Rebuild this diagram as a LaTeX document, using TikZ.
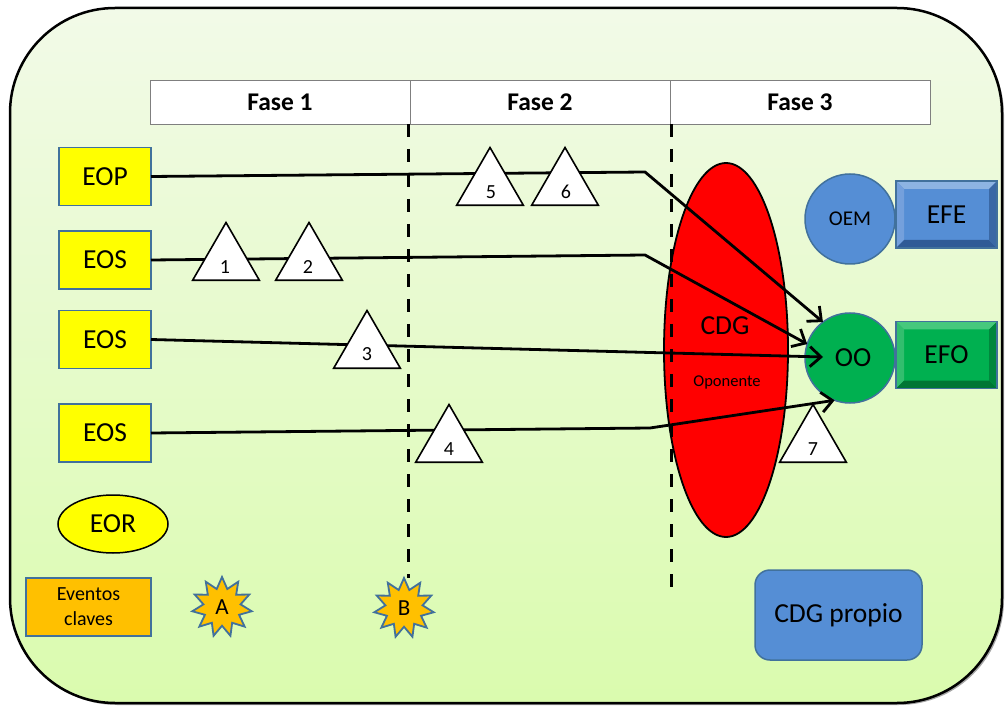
\documentclass[tikz,border=0pt]{standalone}
\usepackage{fontspec}
\setmainfont{Carlito}
\usetikzlibrary{shapes.geometric,shapes.misc,arrows.meta,calc}
\definecolor{bgtop}{RGB}{242,250,232}
\definecolor{bgbot}{RGB}{218,251,174}
\definecolor{yel}{RGB}{255,255,0}
\definecolor{bordblue}{RGB}{65,113,156}
\definecolor{orng}{RGB}{255,192,0}
\definecolor{mblue}{RGB}{85,142,213}
\definecolor{mgreen}{RGB}{0,176,80}
\definecolor{hdrgray}{RGB}{127,127,127}
\definecolor{blueL}{RGB}{141,180,226}
\definecolor{blueM}{RGB}{116,160,220}
\definecolor{blueD}{RGB}{47,90,150}
\definecolor{blueDD}{RGB}{58,104,165}
\definecolor{greenL}{RGB}{70,200,125}
\definecolor{greenM}{RGB}{50,190,110}
\definecolor{greenD}{RGB}{0,118,52}
\definecolor{greenDD}{RGB}{0,135,60}
\newcommand{\bevelbox}[5]{%
 \fill[#2] (#1.north west) -- (#1.north east) -- ($(#1.north east)+(-8,8)$) -- ($(#1.north west)+(8,8)$) -- cycle;
 \fill[#3] (#1.north west) -- ($(#1.north west)+(8,8)$) -- ($(#1.south west)+(8,-8)$) -- (#1.south west) -- cycle;
 \fill[#4] (#1.south west) -- ($(#1.south west)+(8,-8)$) -- ($(#1.south east)+(-8,-8)$) -- (#1.south east) -- cycle;
 \fill[#5] (#1.north east) -- (#1.south east) -- ($(#1.south east)+(-8,-8)$) -- ($(#1.north east)+(-8,8)$) -- cycle;
 \draw[bordblue, line width=1.5pt] (#1.north west) rectangle (#1.south east);}
\begin{document}
\begin{tikzpicture}[x=1pt,y=-1pt,
  hdr/.style={draw=hdrgray, line width=0.8pt, fill=white, minimum width=260, minimum height=44, inner sep=0, outer sep=0, font=\bfseries\fontsize{25.5}{30}\selectfont},
  phaseline/.style={line width=3pt, dash pattern=on 13pt off 12pt},
  lbox/.style={draw=bordblue, line width=1.8pt, fill=yel, minimum width=92, minimum height=58, inner sep=0, outer sep=0, font=\fontsize{27.5}{32}\selectfont},
  tri/.style={regular polygon, regular polygon sides=3, minimum size=77pt, inner sep=0, outer sep=0, fill=white, draw=black, line width=1.6pt},
  num/.style={inner sep=0, font=\fontsize{20}{24}\selectfont},
  conn/.style={line width=2.8pt, black, -{Straight Barb[length=11pt,width=20pt,line width=2.8pt]}},
  starsh/.style={star, star points=11, star point ratio=1.6, minimum size=60pt, inner sep=0, fill=orng, draw=bordblue, line width=1.8pt, font=\fontsize{23}{26}\selectfont},
  circ/.style={circle, minimum size=90pt, inner sep=0, outer sep=0, draw=bordblue, line width=1.5pt},
  bev/.style={minimum width=101, minimum height=67, inner sep=0, outer sep=0, font=\fontsize{27.5}{32}\selectfont}
]
\useasboundingbox (0,0) rectangle (1006,708);
% background
\fill[black!35, rounded corners=105pt] (12,10) rectangle (1004,705);
\draw[line width=2.5pt, rounded corners=105pt, top color=bgtop, bottom color=bgbot] (10,8) rectangle (1002,703);
% header
\node[hdr] (f1) at (280,102) {Fase 1};
\node[hdr] (f2) at (540,102) {Fase 2};
\node[hdr] (f3) at (800,102) {Fase 3};
% phase lines
\coordinate (d1a) at (408,124); \coordinate (d1b) at (408,578);
\coordinate (d2a) at (671,124); \coordinate (d2b) at (671,595);
\draw[phaseline] (d1a) -- (d1b);
% left boxes
\node[lbox] (EOP) at (105,176.5) {EOP};
\node[lbox] (EOS1) at (105,260) {EOS};
\node[lbox] (EOS2) at (105,339.5) {EOS};
\node[lbox] (EOS3) at (105,433) {EOS};
\node[ellipse, draw=black, line width=1.5pt, fill=yel, minimum width=110, minimum height=58, inner sep=0, font=\fontsize{27.5}{32}\selectfont] (EOR) at (113,524) {EOR};
\node[draw=bordblue, line width=1.8pt, fill=orng, minimum width=125, minimum height=58, inner sep=0, align=center, font=\fontsize{20}{25}\selectfont] (EV) at (88.5,607) {Eventos\\claves};
% stars
\node[starsh] (A) at (222,607) {A};
\node[starsh] (B) at (404,608) {B};
% CDG
\node[ellipse, draw=black, fill=red, line width=1.8pt, minimum width=124, minimum height=374, inner sep=0] (CDG) at (726,350) {};
\node[inner sep=0, font=\fontsize{27.5}{32}\selectfont] (cdgt) at (725,326) {CDG};
\node[inner sep=0, font=\fontsize{16.5}{20}\selectfont] (opo) at (727,382) {Oponente};
\draw[phaseline] (d2a) -- (d2b);
% right side
\node[circ, fill=mblue, font=\fontsize{21}{24}\selectfont] (OEM) at (850,219) {OEM};
\node[circ, fill=mgreen, font=\fontsize{27.5}{32}\selectfont] (OO) at (850,358) {\hspace{6pt}OO};
\node[bev, fill=mblue] (EFE) at (946.5,214.5) {};
\bevelbox{EFE}{blueL}{blueM}{blueD}{blueDD}
\node[bev] (efet) at (946.5,214.5) {EFE};
\node[bev, fill=mgreen] (EFO) at (946.5,355) {};
\bevelbox{EFO}{greenL}{greenM}{greenD}{greenDD}
\node[bev] (efot) at (946.5,355) {EFO};
\node[draw=bordblue, line width=1.5pt, fill=mblue, rounded corners=15pt, minimum width=167, minimum height=90, inner sep=0, font=\fontsize{27.5}{32}\selectfont] (CDGP) at (838.5,615) {CDG propio};
% connectors
\coordinate (b1) at (645,172);
\coordinate (b2) at (645,255);
\coordinate (b4) at (650,428);
\coordinate (t3) at (823,357);
\draw[conn] (EOP.east) -- (b1) -- (OO.127);
\draw[conn] (EOS1.east) -- (b2) -- (OO.162);
\draw[conn] (EOS2.east) -- (t3);
\draw[conn] (EOS3.east) -- (b4) -- (OO.250);
% triangles
\node[tri] (T1) at (226,261) {};
\node[num] (n1) at (225,267) {1};
\node[tri] (T2) at (309,261) {};
\node[num] (n2) at (308,267) {2};
\node[tri] (T3) at (367,349) {};
\node[num] (n3) at (367,354) {3};
\node[tri] (T4) at (449,443) {};
\node[num] (n4) at (449,449) {4};
\node[tri] (T5) at (490,186) {};
\node[num] (n5) at (491,192) {5};
\node[tri] (T6) at (565,186) {};
\node[num] (n6) at (566,192) {6};
\node[tri] (T7) at (813,443) {};
\node[num] (n7) at (813,449) {7};
\end{tikzpicture}
\end{document}
